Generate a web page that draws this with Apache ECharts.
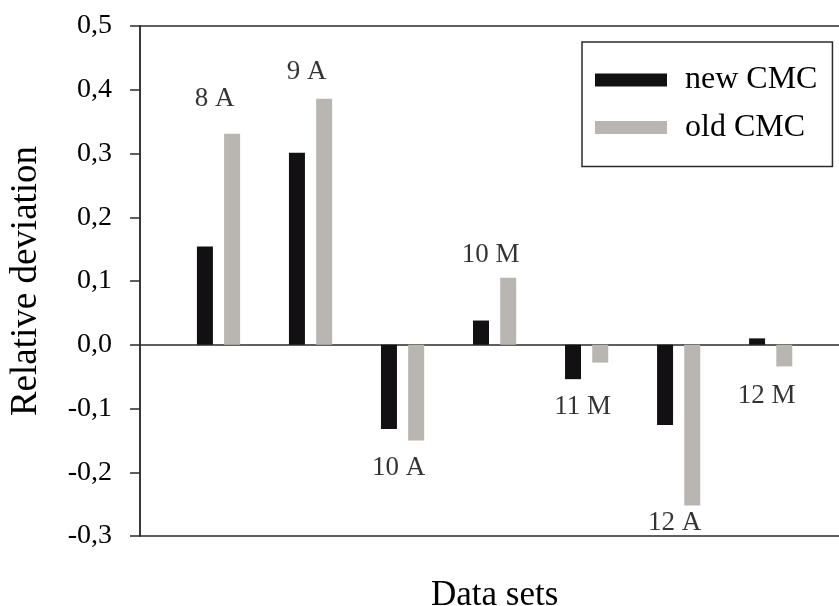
<!DOCTYPE html>
<html>
<head>
<meta charset="utf-8">
<script src="https://cdn.jsdelivr.net/npm/echarts@6/dist/echarts.min.js"></script>
<style>
  html, body { margin: 0; padding: 0; background: #fff; }
  #chart { width: 839px; height: 606px; }
</style>
</head>
<body>
<div id="chart"></div>
<script>
// data sets on the x axis
var categories = ['8 A', '9 A', '10 A', '10 M', '11 M', '12 A', '12 M'];
// relative deviation
var newCMC = [0.154, 0.301, -0.132, 0.038, -0.054, -0.126, 0.010];
var oldCMC = [0.331, 0.386, -0.150, 0.105, -0.028, -0.252, -0.034];
// where each data-set name sits (in axis units)
var labelY = [0.386, 0.428, -0.193, 0.141, -0.097, -0.279, -0.080];
var yTicks = [-0.3, -0.2, -0.1, 0.0, 0.1, 0.2, 0.3, 0.4, 0.5];

var font = 'Liberation Serif';
var chart = echarts.init(document.getElementById('chart'));

var option = {
    animation: false,
    backgroundColor: '#fff',
    grid: [
        // frame + y axis
        { left: 140, right: -5, top: 26, bottom: 70, outerBoundsMode: 'none', containLabel: false,
          show: true, borderColor: '#2b2b2b', borderWidth: 1.5 },
        // bars
        { left: 172.5, right: 22.3, top: 26, bottom: 70, outerBoundsMode: 'none', containLabel: false }
    ],
    legend: {
        data: ['new CMC', 'old CMC'],
        orient: 'vertical',
        left: 582,
        top: 42,
        padding: [22, 15, 23, 13],
        itemGap: 15.6,
        itemWidth: 72,
        itemHeight: 13,
        borderColor: '#2b2b2b',
        borderWidth: 1.5,
        icon: 'rect',
        textStyle: { fontFamily: font, fontSize: 32, color: '#000', lineHeight: 20, padding: [0, 0, 0, 13] }
    },
    xAxis: [
        {
            gridIndex: 0, type: 'value', min: 0, max: 1,
            axisLine: { show: true, onZero: true, lineStyle: { color: '#2b2b2b', width: 1.5 } },
            axisTick: { show: false }, axisLabel: { show: false }, splitLine: { show: false }
        },
        {
            gridIndex: 1, type: 'category', data: categories,
            name: 'Data sets', nameLocation: 'middle', nameGap: 42,
            nameTextStyle: { fontFamily: font, fontSize: 35, color: '#000' },
            axisLine: { show: false, onZero: false }, axisTick: { show: false }, axisLabel: { show: false }
        }
    ],
    yAxis: [
        {
            gridIndex: 0, type: 'value', min: yTicks[0], max: yTicks[yTicks.length - 1], interval: 0.1,
            name: 'Relative deviation', nameLocation: 'middle', nameGap: 95,
            nameTextStyle: { fontFamily: font, fontSize: 37, color: '#000' },
            axisLine: { show: true, lineStyle: { color: '#2b2b2b', width: 1.5 } },
            axisTick: { show: true, inside: false, length: 10, lineStyle: { color: '#2b2b2b', width: 1.5 } },
            axisLabel: {
                margin: 28, fontFamily: font, fontSize: 28, color: '#000',
                formatter: function (v) { return v.toFixed(1).replace('.', ','); }
            },
            splitLine: { show: false }
        },
        {
            gridIndex: 1, type: 'value', min: yTicks[0], max: yTicks[yTicks.length - 1], interval: 0.1,
            show: false
        }
    ],
    series: [
        {
            name: 'new CMC', type: 'bar', xAxisIndex: 1, yAxisIndex: 1,
            data: newCMC, barWidth: 16, barGap: '70%',
            itemStyle: { color: '#121012' }
        },
        {
            name: 'old CMC', type: 'bar', xAxisIndex: 1, yAxisIndex: 1,
            data: oldCMC, barWidth: 16, barGap: '70%',
            itemStyle: { color: '#b9b6b1' }
        },
        {
            name: 'names', type: 'scatter', xAxisIndex: 1, yAxisIndex: 1,
            symbolSize: 0, silent: true,
            data: labelY.map(function (y, i) { return [categories[i], y]; }),
            label: {
                show: true, position: 'inside', offset: [-4, 0],
                fontFamily: font, fontSize: 27, color: '#000',
                formatter: function (p) { return p.value[0]; }
            }
        }
    ]
};

chart.setOption(option);
</script>
</body>
</html>
